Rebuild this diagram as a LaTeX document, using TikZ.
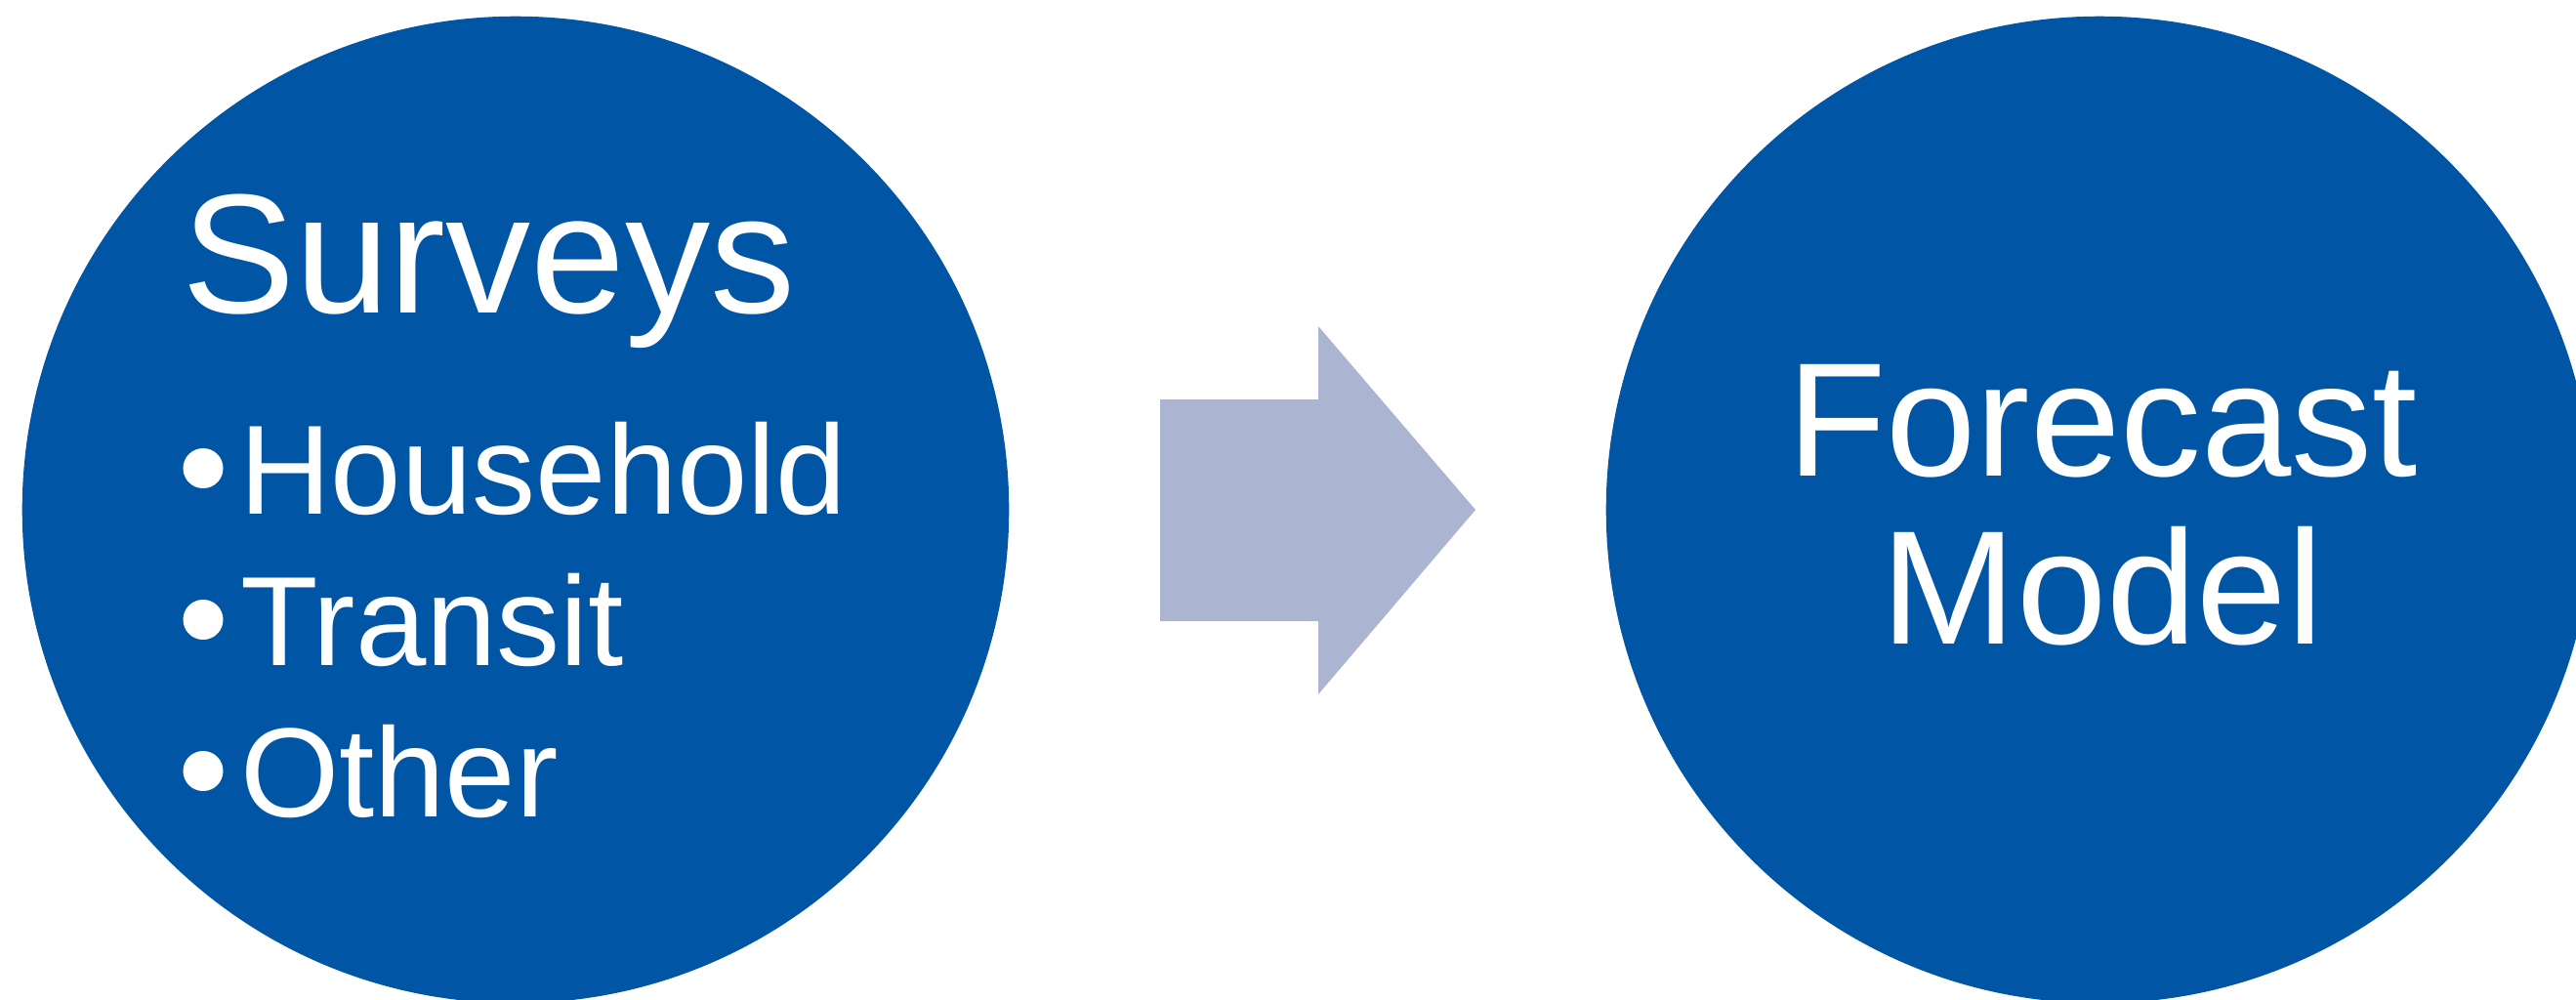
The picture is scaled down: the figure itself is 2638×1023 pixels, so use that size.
\documentclass[tikz,border=0pt]{standalone}
\usepackage{fontspec}
\setmainfont{Liberation Sans}
\definecolor{cblue}{RGB}{0,85,164}
\definecolor{arrowc}{RGB}{171,180,209}
\tikzset{
  bigdisc/.style={circle, fill=cblue, draw=none, inner sep=0pt, minimum size=10.1cm},
  dotw/.style={circle, fill=white, draw=none, inner sep=0pt, minimum size=0.41cm},
  txt/.style={text=white, inner sep=0pt, outer sep=0pt},
  titlefont/.style={font=\fontsize{49.5}{52}\selectfont},
  itemfont/.style={font=\fontsize{37}{40}\selectfont},
  modelfont/.style={font=\fontsize{47.2}{50}\selectfont},
  blockarrow/.style={fill=arrowc, draw=none}
}
\begin{document}
\begin{tikzpicture}[x=0.01cm, y=-0.01cm]
\useasboundingbox (0,0) rectangle (2638,1023);
\clip (0,0) rectangle (2638,1023);
\fill[white] (0,0) rectangle (2638,1023);
% circles
\node[bigdisc] (src) at (528,522) {};
\node[bigdisc] (dst) at (2150,522) {};
% block arrow between the circles
\fill[blockarrow] (1188,409) -- (1350,409) -- (1350,334) -- (1511,522)
  -- (1350,711) -- (1350,636) -- (1188,636) -- cycle;
% left circle text
\node[txt, titlefont, anchor=base west] (surveys) at (186,320) {Surveys};
\node[dotw] (b1) at (208,479.5) {};
\node[dotw] (b2) at (208,634.5) {};
\node[dotw] (b3) at (208,789.5) {};
\node[txt, itemfont, anchor=base west] (household) at (245,526) {Household};
\node[txt, itemfont, anchor=base west] (transit) at (246,681) {Transit};
\node[txt, itemfont, anchor=base west] (other) at (246,836) {Other};
% right circle text
\node[txt, modelfont, anchor=base] (forecast) at (2153,487) {Forecast};
\node[txt, modelfont, anchor=base] (model) at (2153,659) {Model};
\end{tikzpicture}
\end{document}
